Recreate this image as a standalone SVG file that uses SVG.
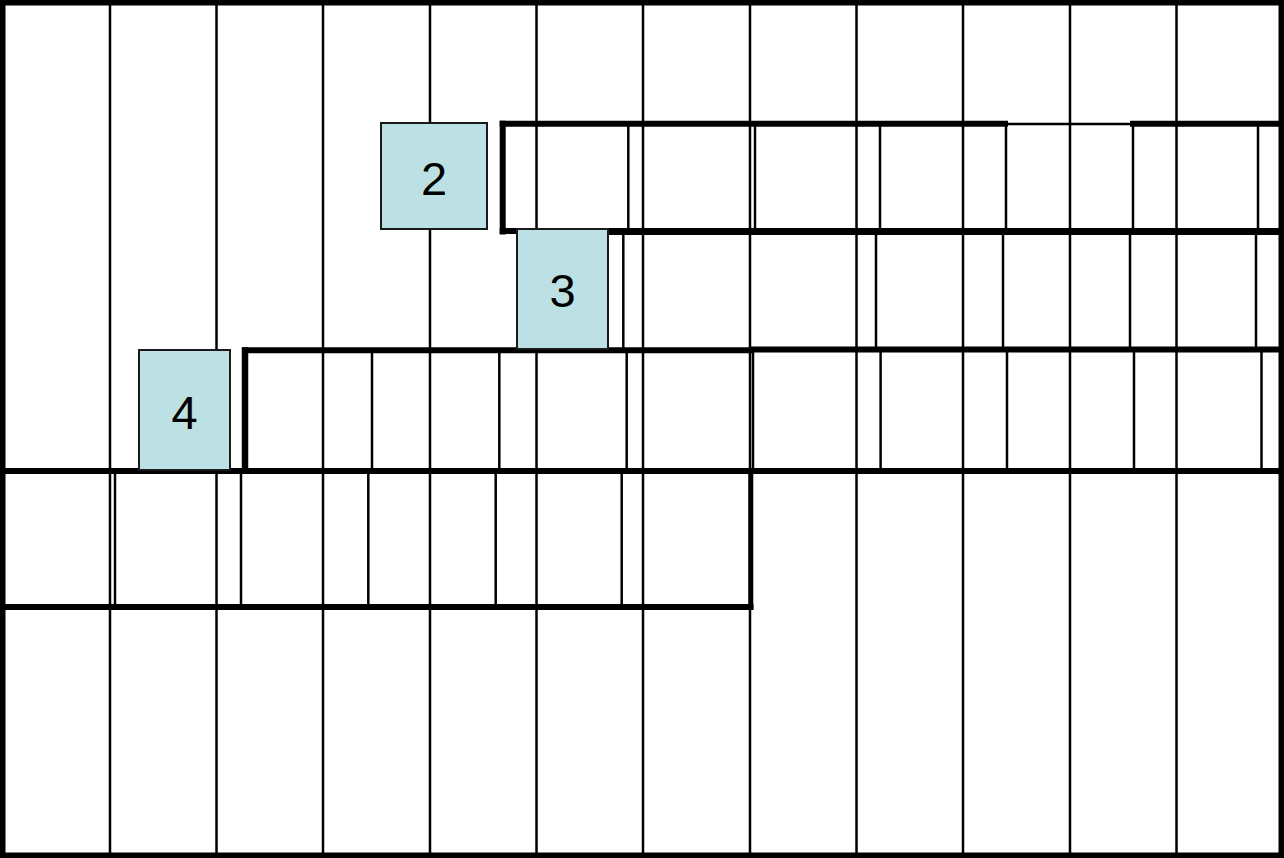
<svg xmlns="http://www.w3.org/2000/svg" width="1284" height="858" viewBox="0 0 1284 858">
<style>
.thin{stroke:#000;stroke-width:2.5;fill:none}
.thick{stroke:#000;stroke-width:6;fill:none}
.box{fill:#BCE0E4;stroke:#1a1a1a;stroke-width:2}
.lbl{font-family:"Liberation Sans",Arial,sans-serif;font-size:47px;fill:#000;text-anchor:middle}
</style>
<rect x="0" y="0" width="1284" height="858" fill="#fff"/>
<g id="grid" class="thin">
<line x1="110" y1="3" x2="110" y2="855"/>
<line x1="216.5" y1="3" x2="216.5" y2="855"/>
<line x1="323" y1="3" x2="323" y2="855"/>
<line x1="430" y1="3" x2="430" y2="855"/>
<line x1="536.5" y1="3" x2="536.5" y2="855"/>
<line x1="643" y1="3" x2="643" y2="855"/>
<line x1="750" y1="3" x2="750" y2="855"/>
<line x1="856.5" y1="3" x2="856.5" y2="855"/>
<line x1="963" y1="3" x2="963" y2="855"/>
<line x1="1070" y1="3" x2="1070" y2="855"/>
<line x1="1176.5" y1="3" x2="1176.5" y2="855"/>
</g>
<g id="band-row2">
<g class="thin">
<line x1="628.3" y1="124" x2="628.3" y2="231"/>
<line x1="755" y1="124" x2="755" y2="231"/>
<line x1="880" y1="124" x2="880" y2="231"/>
<line x1="1006" y1="124" x2="1006" y2="231"/>
<line x1="1133" y1="124" x2="1133" y2="231"/>
<line x1="1258" y1="124" x2="1258" y2="231"/>
</g>
<line class="thick" x1="502.7" y1="120.7" x2="502.7" y2="234.5"/>
<line class="thick" x1="499.7" y1="123.7" x2="1008" y2="123.7"/>
<line x1="1008" y1="124" x2="1130" y2="124" stroke="#000" stroke-width="2.7"/>
<line class="thick" x1="1130" y1="123.7" x2="1284" y2="123.7"/>
<line class="thick" x1="499.7" y1="231" x2="1284" y2="231"/>
</g>
<g id="band-row3">
<g class="thin">
<line x1="623.3" y1="232" x2="623.3" y2="350"/>
<line x1="876" y1="232" x2="876" y2="350"/>
<line x1="1003" y1="232" x2="1003" y2="350"/>
<line x1="1130" y1="232" x2="1130" y2="350"/>
<line x1="1256" y1="232" x2="1256" y2="350"/>
</g>
<line x1="608" y1="232.5" x2="1284" y2="232.5" stroke="#000" stroke-width="5"/>
</g>
<g id="band-row4">
<g class="thin">
<line x1="372" y1="350" x2="372" y2="471"/>
<line x1="499.3" y1="350" x2="499.3" y2="471"/>
<line x1="626.7" y1="350" x2="626.7" y2="471"/>
<line x1="753" y1="350" x2="753" y2="471"/>
<line x1="880.6" y1="350" x2="880.6" y2="471"/>
<line x1="1007" y1="350" x2="1007" y2="471"/>
<line x1="1134" y1="350" x2="1134" y2="471"/>
<line x1="1261.5" y1="350" x2="1261.5" y2="471"/>
</g>
<line x1="245" y1="347.3" x2="245" y2="474" stroke="#000" stroke-width="6.5"/>
<line class="thick" x1="242" y1="350.3" x2="752" y2="350.3"/>
<line class="thick" x1="750" y1="349.5" x2="1284" y2="349.5"/>
<line class="thick" x1="0" y1="471" x2="1284" y2="471"/>
</g>
<g id="band-row5">
<g class="thin">
<line x1="115" y1="471" x2="115" y2="607"/>
<line x1="241" y1="471" x2="241" y2="607"/>
<line x1="368.3" y1="471" x2="368.3" y2="607"/>
<line x1="495.7" y1="471" x2="495.7" y2="607"/>
<line x1="621.7" y1="471" x2="621.7" y2="607"/>
</g>
<line x1="750.8" y1="468" x2="750.8" y2="610" stroke="#000" stroke-width="5"/>
<line class="thick" x1="0" y1="607" x2="753.5" y2="607"/>
</g>
<rect id="frame" x="2.75" y="2.75" width="1278.5" height="852.5" fill="none" stroke="#000" stroke-width="5.5"/>
<g id="node-2">
<rect class="box" x="381" y="123" width="106" height="106"/>
<text class="lbl" x="434" y="195">2</text>
</g>
<g id="node-3">
<rect class="box" x="517" y="229" width="91" height="120"/>
<text class="lbl" x="562.5" y="306.5">3</text>
</g>
<g id="node-4">
<rect class="box" x="139" y="350" width="91" height="120"/>
<text class="lbl" x="184.5" y="429">4</text>
</g>
</svg>
